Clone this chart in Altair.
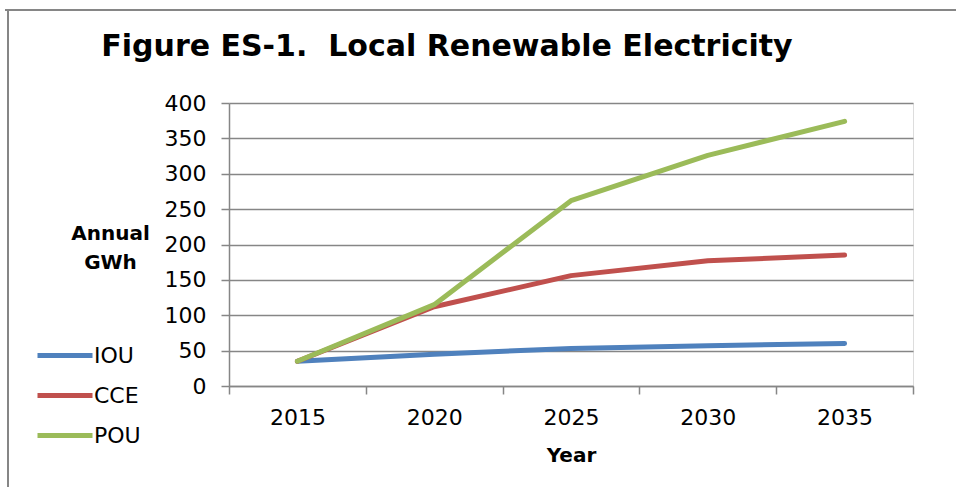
import altair as alt
import pandas as pd

years = ["2015", "2020", "2025", "2030", "2035"]
series_names = ["IOU", "CCE", "POU"]
iou = [35, 45, 53, 57, 60]
cce = [35, 112, 156, 177, 185]
pou = [35, 115, 262, 326, 374]
colors = ["#4F81BD", "#C0504D", "#9BBB59"]

rows = []
for name, vals in zip(series_names, [iou, cce, pou]):
    for y, v in zip(years, vals):
        rows.append({"Year": y, "Series": name, "Value": v})
df = pd.DataFrame(rows)

GRAY = "#868686"
FONT = "DejaVu Sans"

lines = alt.Chart(df).mark_line(strokeWidth=5, strokeCap="round", strokeJoin="round").encode(
    x=alt.X("Year:O", sort=years,
            scale=alt.Scale(type="band", paddingInner=0, paddingOuter=0),
            axis=alt.Axis(title="Year", labelAngle=0, tickBand="extent", grid=False,
                          domainColor=GRAY, domainWidth=1.5, tickColor=GRAY, tickWidth=1.5,
                          tickSize=8, labelPadding=13, labelFont=FONT, labelFontSize=22,
                          labelColor="#000000", titleFont=FONT, titleFontSize=20,
                          titleFontWeight="bold", titleColor="#000000", titlePadding=17)),
    y=alt.Y("Value:Q",
            scale=alt.Scale(domain=[0, 400], nice=False),
            axis=alt.Axis(values=list(range(0, 401, 50)), title=["Annual", "GWh"],
                          titleAngle=0, titleAlign="center", titleBaseline="middle",
                          titleX=-119, titleY=130, titleLineHeight=29,
                          titleFont=FONT, titleFontSize=20, titleFontWeight="bold",
                          titleColor="#000000",
                          grid=True, gridColor=GRAY, gridWidth=1.5,
                          domainColor=GRAY, domainWidth=1.5, tickColor=GRAY, tickWidth=1.5,
                          tickSize=8, labelPadding=15, labelFont=FONT, labelFontSize=22,
                          labelColor="#000000")),
    color=alt.Color("Series:N", sort=series_names,
                    scale=alt.Scale(domain=series_names, range=colors),
                    legend=alt.Legend(title=None, orient="none", legendX=-194, legendY=240,
                                      symbolType="M-1,0H4.5", symbolSize=400,
                                      symbolStrokeWidth=5, labelOffset=34,
                                      labelFont=FONT, labelFontSize=22, labelColor="#000000",
                                      rowPadding=16)),
)

frame_top = alt.Chart(pd.DataFrame({"k": [0]})).mark_rule(color=GRAY, strokeWidth=2).encode(
    x=alt.value(-224), x2=alt.value(760), y=alt.value(-93)
)
frame_left = alt.Chart(pd.DataFrame({"k": [0]})).mark_rule(color=GRAY, strokeWidth=2).encode(
    x=alt.value(-221), y=alt.value(-93), y2=alt.value(400)
)

chart = alt.layer(frame_top, frame_left, lines).properties(
    width=684, height=283,
    autosize=alt.AutoSizeParams(type="none"),
    padding={"left": 229, "top": 103, "right": 43, "bottom": 101},
    title=alt.TitleParams("Figure ES-1.\u00a0 Local Renewable Electricity", font=FONT,
                          fontSize=30, fontWeight="bold", color="#000000",
                          anchor="middle", frame="group", baseline="alphabetic",
                          offset=0, dy=77, dx=-124),
).configure_view(stroke=None).configure(background="white")

chart.save("out.html", embed_options={"renderer": "svg", "actions": False})
